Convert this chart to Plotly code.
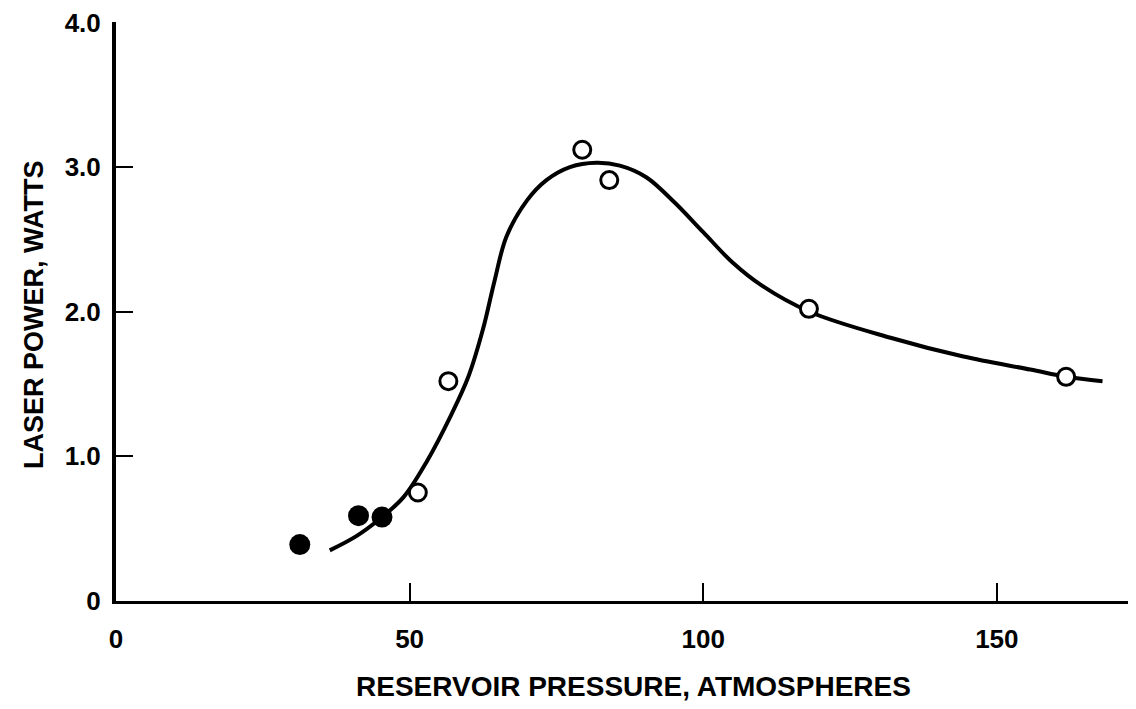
import plotly.graph_objects as go

# Smooth fitted curve
curve_x = [36.4, 41.0, 45.0, 49.0, 53.0, 57.0, 60.0, 62.5, 64.5, 66.5, 70.0, 73.3, 77.3,
           81.8, 85.8, 90.3, 95.0, 100.0, 105.0, 110.0, 118.1, 131.9, 144.3,
           155.7, 161.8, 168.0]
curve_y = [0.35, 0.45, 0.57, 0.72, 0.97, 1.28, 1.55, 1.88, 2.22, 2.52, 2.77, 2.91, 3.00,
           3.03, 3.01, 2.93, 2.76, 2.55, 2.34, 2.18, 2.00, 1.82, 1.69,
           1.60, 1.55, 1.52]

# Solid (filled) data points
filled_x = [31.3, 41.3, 45.3]
filled_y = [0.39, 0.59, 0.58]

# Open data points
open_x = [51.4, 56.6, 79.4, 84.0, 118.0, 161.8]
open_y = [0.75, 1.52, 3.12, 2.91, 2.02, 1.55]

x_ticks = [0, 50, 100, 150]
x_ticktext = ["0", "50", "100", "150"]
y_ticks = [0, 1, 2, 3, 4]
y_ticktext = ["0", "1.0", "2.0", "3.0", "4.0"]

FONT = "Liberation Sans, Arial, Helvetica, sans-serif"

fig = go.Figure()
fig.add_trace(go.Scatter(x=curve_x, y=curve_y, mode="lines",
                         line=dict(color="black", width=4, shape="spline", smoothing=1.0),
                         hoverinfo="skip", showlegend=False))
fig.add_trace(go.Scatter(x=filled_x, y=filled_y, mode="markers",
                         marker=dict(symbol="circle", size=21, color="black"),
                         showlegend=False))
fig.add_trace(go.Scatter(x=open_x, y=open_y, mode="markers",
                         marker=dict(symbol="circle", size=17, color="white",
                                     line=dict(color="black", width=3)),
                         showlegend=False))

# page body has an 8px margin; figure is sized/offset to compensate
fig.update_layout(
    width=1128, height=701,
    margin=dict(l=108, r=0, t=14, b=108),
    paper_bgcolor="white", plot_bgcolor="white",
    font=dict(family=FONT, color="black"),
    showlegend=False,
)
fig.update_xaxes(range=[0, 173.7], showgrid=False, zeroline=False,
                 showline=True, linecolor="black", linewidth=3,
                 ticks="inside", ticklen=18, tickwidth=2, tickcolor="black",
                 tickvals=x_ticks, ticktext=x_ticktext,
                 tickfont=dict(family=FONT, size=26, color="black", weight="bold"),
                 ticklabelstandoff=13, ticklabeloverflow="allow")
fig.update_yaxes(range=[0, 4.003], showgrid=False, zeroline=False,
                 showline=True, linecolor="black", linewidth=4,
                 ticks="inside", ticklen=17, tickwidth=2, tickcolor="black",
                 tickvals=y_ticks, ticktext=y_ticktext,
                 tickfont=dict(family=FONT, size=26, color="black", weight="bold"),
                 ticklabelstandoff=6, ticklabeloverflow="allow")

fig.add_annotation(text="RESERVOIR PRESSURE, ATMOSPHERES", xref="paper", yref="paper",
                   x=0.507, y=-0.1485, showarrow=False, xanchor="center", yanchor="middle",
                   font=dict(family=FONT, size=28, color="black", weight="bold"))
fig.add_annotation(text="LASER POWER, WATTS", xref="paper", yref="paper",
                   x=-0.0804, y=0.4957, showarrow=False, textangle=-90,
                   xanchor="center", yanchor="middle",
                   font=dict(family=FONT, size=27, color="black", weight="bold"))

fig.write_html("out.html")
